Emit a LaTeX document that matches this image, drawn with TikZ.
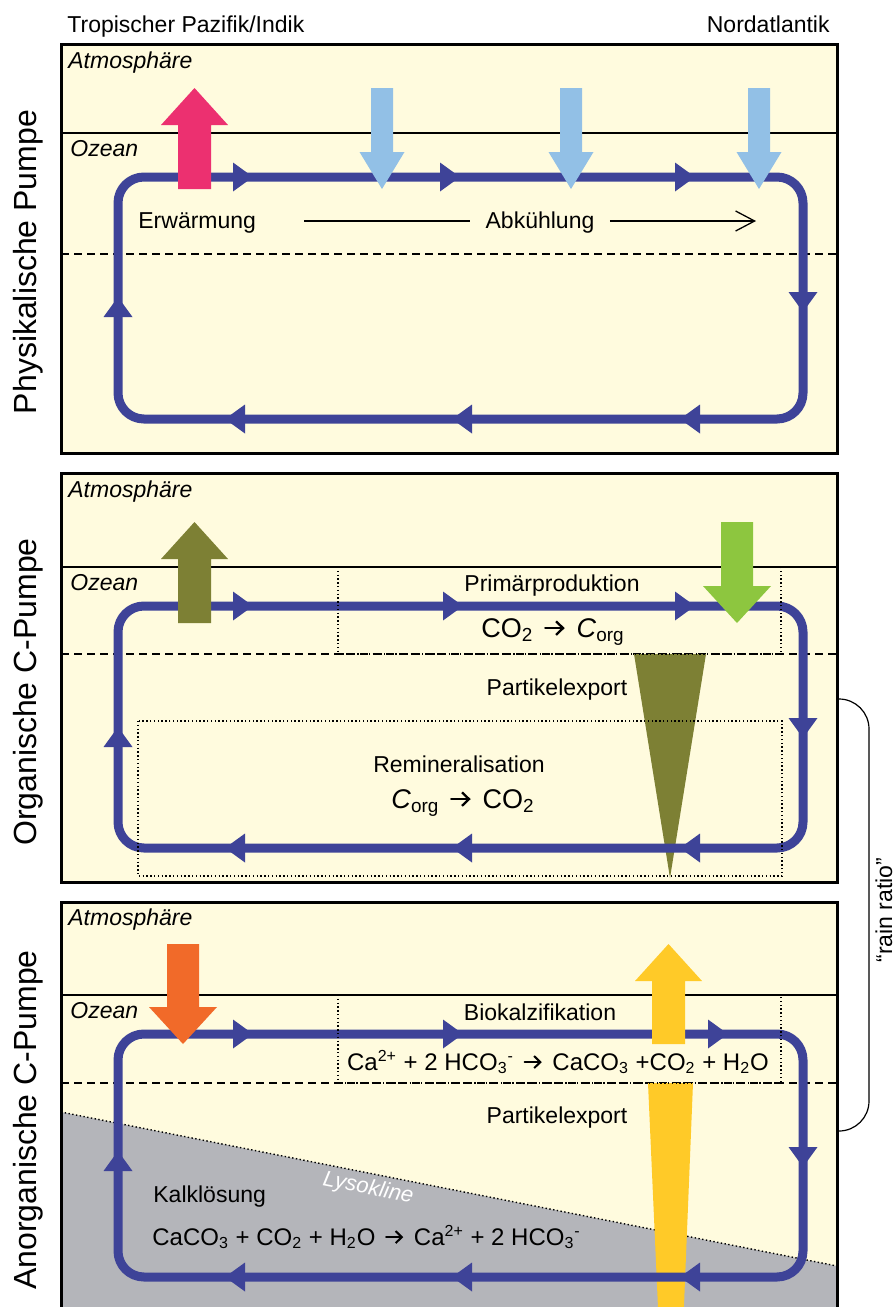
\documentclass[tikz,border=0pt]{standalone}
\usepackage{fontspec}
\setmainfont{Liberation Sans}
\usepackage{xcolor}
\usepackage{tikz}
\usetikzlibrary{arrows.meta}

\definecolor{sea}{RGB}{255,251,222}
\definecolor{loopblue}{RGB}{62,67,152}
\definecolor{rosa}{RGB}{236,48,112}
\definecolor{himmel}{RGB}{146,192,230}
\definecolor{oliv}{RGB}{125,128,52}
\definecolor{blatt}{RGB}{141,198,63}
\definecolor{kalk}{RGB}{241,106,41}
\definecolor{gelb}{RGB}{255,202,40}
\definecolor{grau}{RGB}{180,181,186}

\tikzset{
	pumpe/.style = {x=0.5pt, y=-0.5pt, font=\fontsize{11.5}{14}\selectfont},
	kreis/.style = {draw=loopblue, line width=4.5pt, rounded corners=13pt},
	rahmen/.style = {draw=black, line width=1.5pt},
	grenze/.style = {line width=1pt},
	sprung/.style = {line width=0.8pt, dash pattern=on 4pt off 2.5pt},
	feld/.style = {line width=0.7pt, dash pattern=on 0.7pt off 1.2pt},
	txt/.style = {inner sep=0pt},
	schicht/.style = {txt, anchor=base west, font=\fontsize{11.5}{14}\selectfont\itshape},
	formel/.style = {txt, anchor=base, font=\fontsize{13.5}{16}\selectfont},
	kformel/.style = {txt, font=\fontsize{12}{14}\selectfont},
	titel/.style = {txt, rotate=90, font=\fontsize{16}{19}\selectfont},
}

% reaction arrow inside the formulas
\newcommand\pfeil{\hspace{0.12em}\tikz[baseline=-0.33em, x=1em, y=1em] \draw[line width=0.085em, line cap=round, -{Straight Barb[length=0.26em,width=0.5em,line width=0.085em]}] (0,0) -- (0.72,0);\hspace{0.12em}}
% tip of the circulation loop: x, y, direction
\newcommand\looptip[3]{\fill[loopblue, shift={(#1,#2)}, rotate=#3] (0,0) -- (-20,14.5) -- (-20,-14.5) -- cycle;}
% block arrows: colour, x, tail, tip, half shaft, half head
\newcommand\arrowdown[6]{\fill[#1] ({#2-#5},#3) -- ({#2+#5},#3) -- ({#2+#5},{#4-37}) -- ({#2+#6},{#4-37}) -- (#2,#4) -- ({#2-#6},{#4-37}) -- ({#2-#5},{#4-37}) -- cycle;}
\newcommand\arrowup[6]{\fill[#1] ({#2-#5},#3) -- ({#2+#5},#3) -- ({#2+#5},{#4+37}) -- ({#2+#6},{#4+37}) -- (#2,#4) -- ({#2-#6},{#4+37}) -- ({#2-#5},{#4+37}) -- cycle;}

\begin{document}
\begin{tikzpicture}[pumpe]
	\useasboundingbox (0,0) rectangle (895,1307);
	\clip (0,0) rectangle (895,1307);

	\node[txt, anchor=base west] (trop) at (67,32) {Tropischer Pazifik/Indik};
	\node[txt, anchor=base east] (nord) at (830,32) {Nordatlantik};

	% physikalische Pumpe
	\fill[sea] (61,44) rectangle (837,453);
	\draw[grenze] (61,133) -- (837,133);
	\draw[sprung] (61,254) -- (837,254);
	\draw[kreis] (118,177) rectangle (803,419);
	\looptip{253}{177}{0} \looptip{460}{177}{0} \looptip{695}{177}{0}
	\looptip{803}{312}{-90}
	\looptip{225}{419}{180} \looptip{452}{419}{180} \looptip{680}{419}{180}
	\looptip{118}{297}{90}
	\arrowup{rosa}{194.5}{189}{88}{16.5}{33.5}
	\arrowdown{himmel}{382}{88}{189}{11}{22.5}
	\arrowdown{himmel}{571}{88}{189}{11}{22.5}
	\arrowdown{himmel}{759}{88}{189}{11}{22.5}
	\node[schicht] (atm1) at (68,68) {Atmosphäre};
	\node[schicht] (oz1) at (70,156) {Ozean};
	\node[txt, anchor=base west] (warm) at (138,228) {Erwärmung};
	\node[txt, anchor=base, fill=sea, inner xsep=7.5pt] (cool) at (540,228) {Abkühlung};
	\coordinate (wstart) at (304,221);
	\coordinate (wend) at (756,221);
	\draw[line width=0.65pt] (wstart) -- (wstart -| cool.west);
	\draw[line width=0.65pt, -{Straight Barb[length=9.5pt,width=10pt]}] (wend -| cool.east) -- (wend);
	\draw[rahmen] (61,44) rectangle (837,453);
	\node[titel] (phys) at (28,262) {Physikalische Pumpe};

	% organische C-Pumpe
	\fill[sea] (61,473) rectangle (837,882);
	\draw[grenze] (61,567) -- (837,567);
	\draw[sprung] (61,654) -- (837,654);
	\fill[oliv] (634,654) -- (706,654) -- (670,878) -- cycle;
	\draw[kreis] (118,606) rectangle (803,848);
	\looptip{253}{606}{0} \looptip{463}{606}{0} \looptip{695}{606}{0}
	\looptip{803}{738}{-90}
	\looptip{225}{848}{180} \looptip{452}{848}{180} \looptip{680}{848}{180}
	\looptip{118}{727}{90}
	\draw[feld] (338,567) rectangle (781,654);
	\draw[feld] (138,721) rectangle (782,876);
	\arrowup{oliv}{194.5}{623}{522}{16.5}{33.5}
	\arrowdown{blatt}{737}{522}{623}{16}{34}
	\node[schicht] (atm2) at (68,497) {Atmosphäre};
	\node[schicht] (oz2) at (70,590) {Ozean};
	\node[txt, anchor=base] (prim) at (552,591) {Primärproduktion};
	\node[formel] (fix) at (553,637) {CO\textsubscript{2} \pfeil{} \textit{C}\textsubscript{org}};
	\node[txt, anchor=base] (exp2) at (557,695) {Partikelexport};
	\node[txt, anchor=base] (remin) at (459,772) {Remineralisation};
	\node[formel] (resp) at (463,808) {\textit{C}\textsubscript{org} \pfeil{} CO\textsubscript{2}};
	\draw[rahmen] (61,473) rectangle (837,882);
	\node[titel] (org) at (28,692) {Organische C-Pumpe};

	% anorganische C-Pumpe
	\fill[sea] (61,902) rectangle (837,1330);
	\fill[grau] (61,1112) -- (837,1266) -- (837,1330) -- (61,1330) -- cycle;
	\draw[line width=0.7pt, dash pattern=on 0.7pt off 1.2pt] (61,1112) -- (837,1266);
	\draw[grenze] (61,995) -- (837,995);
	\draw[sprung] (61,1083) -- (837,1083);
	\fill[gelb] (648,1083) -- (693,1083) -- (683,1330) -- (659,1330) -- cycle;
	\draw[kreis] (118,1034) rectangle (803,1277);
	\looptip{253}{1034}{0} \looptip{463}{1034}{0} \looptip{728}{1034}{0}
	\looptip{803}{1167}{-90}
	\looptip{225}{1277}{180} \looptip{452}{1277}{180} \looptip{680}{1277}{180}
	\looptip{118}{1151}{90}
	\draw[feld] (338,995) rectangle (781,1083);
	\arrowdown{kalk}{183}{944}{1044}{16}{34}
	\arrowup{gelb}{668.5}{1044}{944}{16.5}{33.5}
	\node[schicht] (atm3) at (68,925) {Atmosphäre};
	\node[schicht] (oz3) at (70,1018) {Ozean};
	\node[txt, anchor=base] (bio) at (540,1020) {Biokalzifikation};
	\node[kformel, anchor=base] (fall) at (558,1070) {Ca\textsuperscript{2+} + 2 HCO\textsubscript{3}\textsuperscript{-} \pfeil{} CaCO\textsubscript{3} +CO\textsubscript{2} + H\textsubscript{2}O};
	\node[txt, anchor=base] (exp3) at (557,1123) {Partikelexport};
	\node[txt, anchor=base, text=white, rotate=-11.2, font=\fontsize{11}{13}\selectfont\itshape] (lyso) at (367,1194) {Lysokline};
	\node[txt, anchor=base west] (loes) at (153,1202) {Kalklösung};
	\node[kformel, anchor=base west] (auf) at (152,1245) {CaCO\textsubscript{3} + CO\textsubscript{2} + H\textsubscript{2}O \pfeil{} Ca\textsuperscript{2+} + 2 HCO\textsubscript{3}\textsuperscript{-}};
	\draw[rahmen] (61,902) rectangle (837,1330);
	\node[titel] (anorg) at (28,1120) {Anorganische C-Pumpe};

	% rain ratio
	\coordinate (rtop) at (838,699);
	\coordinate (rbot) at (838,1131);
	\draw[line width=0.6pt, rounded corners=15pt] (rtop) -- ++(31,0) |- (rbot);
	\node[txt, rotate=90] (rain) at (884,910) {“rain ratio”};
\end{tikzpicture}
\end{document}
